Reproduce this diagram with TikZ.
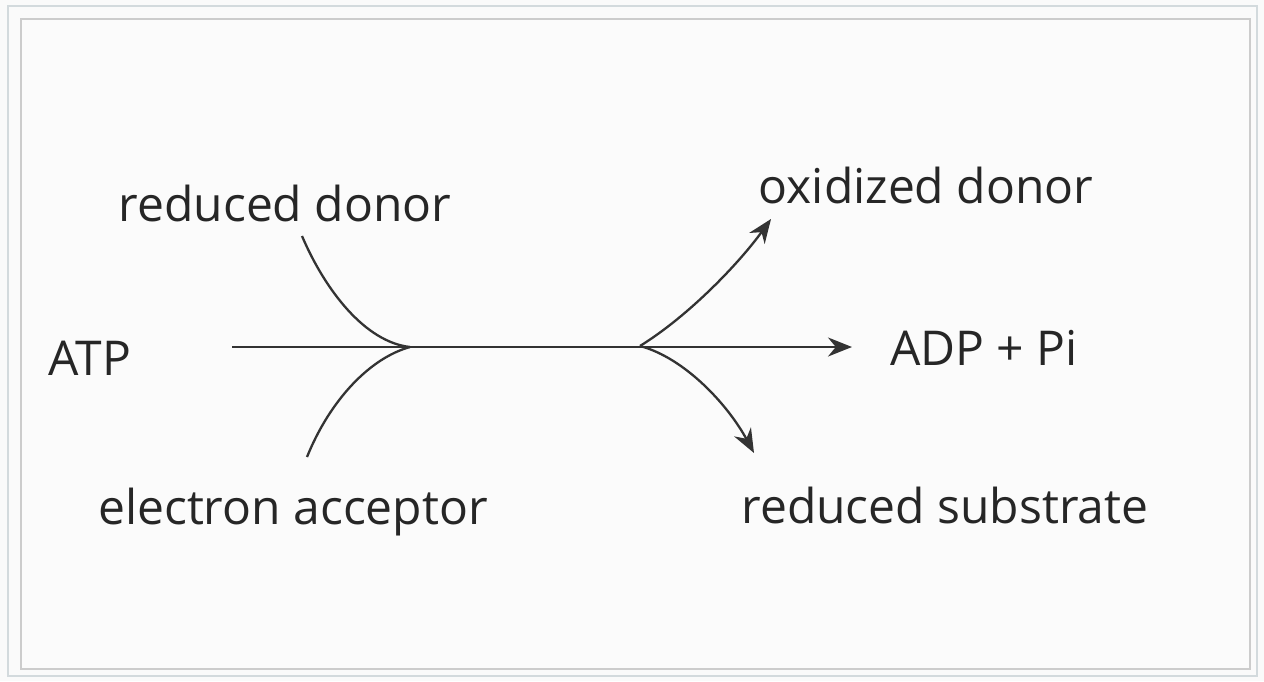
\documentclass[tikz,border=0pt]{standalone}
\usepackage{fontspec}
\setmainfont{Open Sans}
\usetikzlibrary{arrows.meta,positioning}

\begin{document}
\begin{tikzpicture}[
  x=1pt, y=-1pt,
  font=\fontsize{48}{56}\selectfont, >={Stealth[length=24pt,width=19pt]}, line width=2pt,
  lbl/.style={inner sep=0pt, text=black!85},
  flow/.style={draw=black!80, line width=2.3pt},
  frame/.style={draw=gray!40, line width=1.5pt}
]
\useasboundingbox (0,0) rectangle (1264,681);
\fill[gray!4] (0,0) rectangle (1264,681);
\draw[draw=cyan!15!gray!35, line width=1.5pt] (8,6) rectangle (1257,676);
\draw[frame, fill=white!97!gray] (21,19) rectangle (1250,669);

\node[lbl] (rdonor) at (285,203) {reduced donor};
\node[lbl] (odonor) at (926,185) {oxidized donor};
\node[lbl] (atp) at (90,358) {ATP};
\node[lbl] (adp) at (984,348) {ADP + Pi};
\node[lbl] (acceptor) at (293,512) {electron acceptor};
\node[lbl] (substrate) at (945,505) {reduced substrate};

\coordinate (atpend) at (232,347);
\coordinate (adpend) at (852,347);
\coordinate (join) at (410,347);
\coordinate (split) at (640,346);
\coordinate (rdonorend) at (302,236);
\coordinate (acceptorend) at (307,457);
\coordinate (odonorend) at (771,219);
\coordinate (substrateend) at (754,453);

\draw[flow,->] (atpend) -- (adpend);
\draw[flow] (rdonorend) .. controls (325,290) and (365,342) .. (join);
\draw[flow] (acceptorend) .. controls (330,400) and (370,358) .. (join);
\draw[flow,->] (split) .. controls (690,315) and (740,262) .. (odonorend);
\draw[flow,->] (split) .. controls (685,358) and (728,405) .. (substrateend);
\end{tikzpicture}
\end{document}
